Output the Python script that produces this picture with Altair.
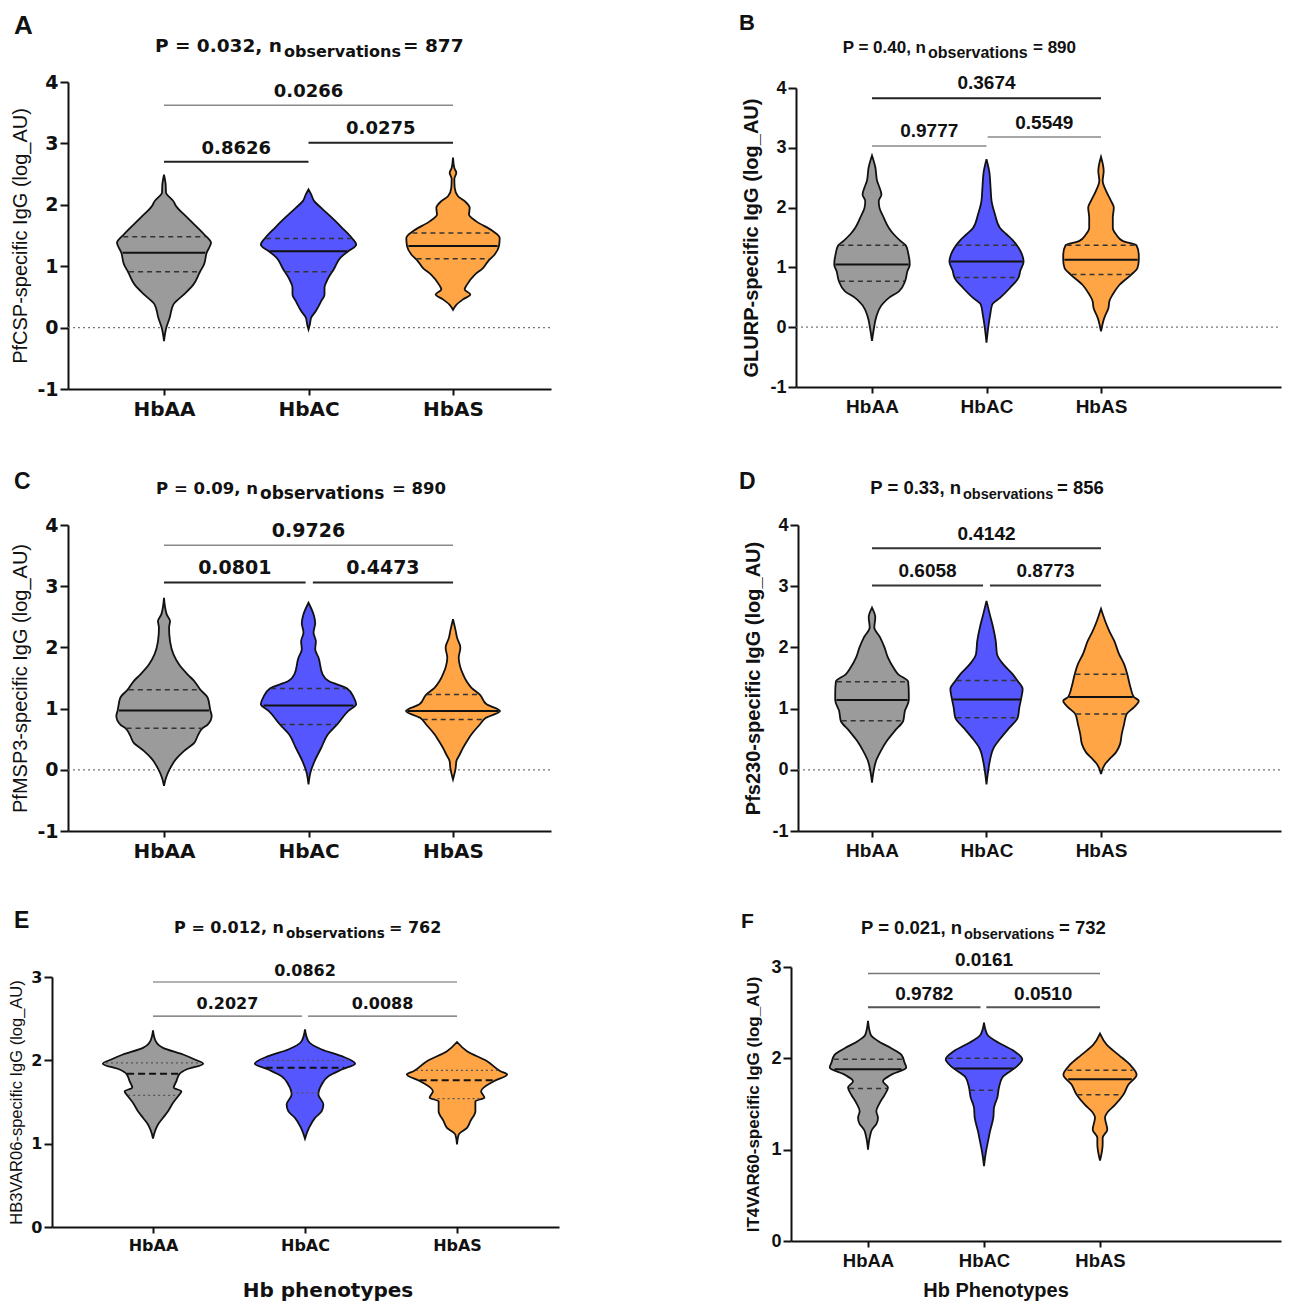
import altair as alt
import numpy as np
import pandas as pd

CATEGORIES = ["HbAA", "HbAC", "HbAS"]
FILLS = ["#9b9b9b", "#5656ff", "#ffa546"]

# ---------------- Panel A : PfCSP ----------------
A_TITLE = ["P = 0.032, n", "observations", "= 877"]
A_YTITLE = "PfCSP-specific IgG (log_AU)"
A_AA_Y = [2.49, 2.33, 2.20, 2.06, 1.99, 1.79, 1.52, 1.38, 1.22, 1.03, 0.91, 0.70, 0.54, 0.375, 0.16, 0.0, -0.22]
A_AA_D = [0, 5, 6, 28, 35, 70, 120, 141, 128, 120, 108, 88, 60, 28, 17, 7, 0]
A_AC_Y = [2.25, 2.17, 2.06, 1.95, 1.79, 1.63, 1.46, 1.35, 1.24, 1.14, 0.97, 0.76, 0.65, 0.54, 0.43, 0.27, 0.16, 0.05, -0.03]
A_AC_D = [0, 8, 17, 38, 70, 100, 130, 143, 118, 96, 78, 55, 48, 48, 38, 22, 8, 4, 0]
A_AS_Y = [2.77, 2.60, 2.52, 2.42, 2.28, 2.14, 2.06, 1.95, 1.84, 1.73, 1.57, 1.46, 1.33, 1.19, 1.08, 0.97, 0.86, 0.70, 0.62, 0.54, 0.46, 0.37, 0.29]
A_AS_D = [0, 4, 10, 4, 5, 15, 35, 50, 48, 70, 120, 140, 138, 125, 105, 90, 65, 42, 35, 52, 30, 10, 0]
A_MEDIAN = [1.22, 1.245, 1.33]
A_Q1 = [0.91, 0.91, 1.12]
A_Q3 = [1.48, 1.45, 1.54]
A_PVALUES = ["0.0266", "0.8626", "0.0275"]

# ---------------- Panel B : GLURP ----------------
B_TITLE = ["P = 0.40, n", "observations", "= 890"]
B_YTITLE = "GLURP-specific IgG (log_AU)"
B_AA_Y = [2.87, 2.67, 2.45, 2.34, 2.22, 2.11, 2.00, 1.83, 1.66, 1.55, 1.44, 1.37, 1.22, 1.05, 0.94, 0.77, 0.60, 0.49, 0.38, 0.16, -0.01, -0.23]
B_AA_D = [0, 10, 15, 22, 28, 20, 22, 35, 50, 65, 85, 100, 108, 112, 105, 98, 80, 50, 30, 12, 6, 0]
B_AC_Y = [2.81, 2.61, 2.34, 2.11, 1.89, 1.66, 1.55, 1.44, 1.33, 1.22, 1.10, 0.94, 0.83, 0.66, 0.49, 0.38, 0.21, -0.01, -0.26]
B_AC_D = [0, 8, 12, 15, 25, 40, 60, 80, 95, 105, 110, 100, 95, 70, 40, 17, 11, 5, 0]
B_AS_Y = [2.85, 2.61, 2.45, 2.28, 2.11, 2.00, 1.83, 1.66, 1.55, 1.44, 1.37, 1.22, 1.13, 0.99, 0.88, 0.71, 0.55, 0.44, 0.32, 0.16, -0.07]
B_AS_D = [0, 8, 5, 15, 30, 38, 35, 35, 45, 65, 105, 112, 112, 108, 90, 55, 35, 25, 22, 10, 0]
B_MEDIAN = [1.05, 1.10, 1.13]
B_Q1 = [0.77, 0.83, 0.88]
B_Q3 = [1.37, 1.37, 1.37]
B_PVALUES = ["0.3674", "0.9777", "0.5549"]

# ---------------- Panel C : PfMSP3 ----------------
C_TITLE = ["P = 0.09, n", "observations", "= 890"]
C_YTITLE = "PfMSP3-specific IgG (log_AU)"
C_AA_Y = [2.81, 2.54, 2.43, 2.32, 2.10, 1.89, 1.72, 1.56, 1.45, 1.31, 1.18, 0.97, 0.88, 0.74, 0.68, 0.55, 0.44, 0.31, 0.17, 0.01, -0.13, -0.26]
C_AA_D = [0, 8, 18, 15, 18, 28, 45, 70, 90, 108, 130, 138, 142, 130, 115, 100, 90, 60, 35, 17, 6, 0]
C_AC_Y = [2.73, 2.54, 2.40, 2.24, 2.10, 1.97, 1.83, 1.56, 1.45, 1.33, 1.18, 1.07, 0.96, 0.74, 0.58, 0.36, 0.14, -0.02, -0.24]
C_AC_D = [0, 15, 20, 15, 22, 20, 30, 42, 60, 115, 135, 142, 118, 85, 58, 38, 18, 7, 0]
C_AS_Y = [2.46, 2.27, 2.16, 2.00, 1.83, 1.67, 1.56, 1.45, 1.34, 1.23, 1.07, 0.96, 0.85, 0.74, 0.58, 0.47, 0.36, 0.25, 0.14, 0.03, -0.16]
C_AS_D = [0, 8, 12, 22, 17, 22, 30, 40, 55, 80, 100, 140, 98, 80, 55, 42, 30, 20, 10, 8, 0]
C_MEDIAN = [0.97, 1.05, 0.96]
C_Q1 = [0.68, 0.74, 0.82]
C_Q3 = [1.31, 1.33, 1.23]
C_PVALUES = ["0.9726", "0.0801", "0.4473"]

# ---------------- Panel D : Pfs230 ----------------
D_TITLE = ["P = 0.33, n", "observations", "= 856"]
D_YTITLE = "Pfs230-specific IgG (log_AU)"
D_AA_Y = [2.65, 2.49, 2.33, 2.16, 2.00, 1.84, 1.67, 1.56, 1.44, 1.24, 1.14, 0.96, 0.80, 0.64, 0.47, 0.31, 0.14, -0.02, -0.21]
D_AA_D = [0, 10, 7, 25, 38, 48, 65, 80, 110, 112, 112, 100, 95, 70, 45, 27, 12, 5, 0]
D_AC_Y = [2.76, 2.54, 2.33, 2.11, 1.89, 1.73, 1.56, 1.45, 1.32, 1.15, 1.02, 0.85, 0.69, 0.53, 0.36, 0.14, -0.02, -0.24]
D_AC_D = [0, 10, 20, 28, 32, 50, 80, 95, 110, 105, 100, 95, 70, 45, 22, 10, 5, 0]
D_AS_Y = [2.63, 2.44, 2.27, 2.11, 1.89, 1.73, 1.56, 1.34, 1.19, 1.13, 1.02, 0.91, 0.74, 0.58, 0.42, 0.28, 0.17, 0.09, -0.07]
D_AS_D = [0, 12, 25, 40, 55, 70, 80, 90, 100, 115, 100, 78, 70, 63, 58, 45, 25, 12, 0]
D_MEDIAN = [1.14, 1.15, 1.19]
D_Q1 = [0.80, 0.85, 0.91]
D_Q3 = [1.44, 1.46, 1.56]
D_PVALUES = ["0.4142", "0.6058", "0.8773"]

# ---------------- Panel E : HB3VAR06 ----------------
E_TITLE = ["P =  0.012, n", "observations", "= 762"]
E_YTITLE = "HB3VAR06-specific IgG (log_AU)"
E_XTITLE = "Hb phenotypes"
E_AA_Y = [2.36, 2.23, 2.15, 2.07, 2.01, 1.96, 1.89, 1.84, 1.75, 1.67, 1.63, 1.57, 1.49, 1.39, 1.31, 1.23, 1.15, 1.06]
E_AA_D = [0, 8, 30, 90, 125, 150, 100, 80, 70, 62, 85, 75, 60, 45, 30, 15, 6, 0]
E_AC_Y = [2.37, 2.23, 2.13, 2.05, 1.96, 1.89, 1.81, 1.71, 1.59, 1.47, 1.39, 1.31, 1.19, 1.06]
E_AC_D = [0, 10, 50, 110, 150, 110, 70, 50, 40, 55, 50, 30, 12, 0]
E_AS_Y = [2.22, 2.11, 1.99, 1.87, 1.83, 1.75, 1.63, 1.55, 1.51, 1.39, 1.27, 1.19, 1.11, 0.99]
E_AS_D = [0, 30, 90, 130, 150, 110, 72, 82, 55, 55, 40, 30, 5, 0]
E_MEDIAN = [1.84, 1.91, 1.76]
E_Q1 = [1.58, 1.61, 1.54]
E_Q3 = [1.97, 2.00, 1.88]
E_PVALUES = ["0.0862", "0.2027", "0.0088"]

# ---------------- Panel F : IT4VAR60 ----------------
F_TITLE = ["P = 0.021, n", "observations", "= 732"]
F_YTITLE = "IT4VAR60-specific IgG (log_AU)"
F_XTITLE = "Hb Phenotypes"
F_AA_Y = [2.41, 2.26, 2.19, 2.11, 2.04, 1.95, 1.90, 1.82, 1.75, 1.68, 1.60, 1.51, 1.42, 1.35, 1.28, 1.22, 1.13, 1.00]
F_AA_D = [0, 8, 30, 70, 100, 110, 115, 70, 45, 60, 50, 35, 25, 30, 25, 12, 5, 0]
F_AC_Y = [2.39, 2.26, 2.19, 2.08, 1.99, 1.90, 1.79, 1.68, 1.57, 1.46, 1.35, 1.20, 1.09, 0.98, 0.82]
F_AC_D = [0, 10, 35, 90, 115, 95, 55, 45, 40, 30, 28, 18, 12, 6, 0]
F_AS_Y = [2.27, 2.15, 2.04, 1.93, 1.82, 1.71, 1.60, 1.49, 1.42, 1.35, 1.22, 1.13, 1.06, 0.88]
F_AS_D = [0, 20, 55, 90, 110, 85, 70, 45, 25, 15, 22, 8, 8, 0]
F_MEDIAN = [1.88, 1.89, 1.77]
F_Q1 = [1.67, 1.65, 1.60]
F_Q3 = [1.99, 2.00, 1.87]
F_PVALUES = ["0.0161", "0.9782", "0.0510"]

DJ = "DejaVu Sans"
LS = "Liberation Sans"
VMAX = 0.33  # widest violin half-width, in category units


def build_panel(c):
    W, H = c["W"], c["H"]
    d0 = 1 + (c["xstart"] - c["c1"]) / c["sp"]
    d1 = 1 + (c["xend"] - c["c1"]) / c["sp"]
    xsc = alt.Scale(domain=[d0, d1], range=[c["xstart"], c["xend"]], nice=False, zero=False)
    ysc = alt.Scale(domain=c["ydom"], range=[H, c["ytop"]], nice=False, zero=False)
    lab = "[" + ",".join("'%s'" % s for s in CATEGORIES) + "][datum.value - 1]"
    xax = alt.Axis(values=[1, 2, 3], labelExpr=lab, title=None, grid=False,
                   domainColor="#111", domainWidth=2, tickColor="#111", tickWidth=2, tickSize=6,
                   labelFont=c["font"], labelFontSize=c["xlab"], labelFontWeight="bold",
                   labelColor="#111", labelPadding=4, labelFlush=False, labelOverlap=False)
    yax = alt.Axis(values=c["yticks"], labelExpr="'' + datum.value", title=c["ytitle"], grid=False,
                   domainColor="#111", domainWidth=2, tickColor="#111", tickWidth=2, tickSize=8,
                   labelFont=c["font"], labelFontSize=c["ylab"], labelFontWeight="bold",
                   labelColor="#111", labelPadding=2, offset=-c["xstart"], labelOverlap=False,
                   titleFont=LS, titleFontSize=c["ytsize"], titleFontWeight=c["ytweight"],
                   titleColor="#111", titlePadding=c["ytpad"])

    def X(f):
        return alt.X(f, scale=xsc, axis=xax, stack=None)

    def Y(f):
        return alt.Y(f, scale=ysc, axis=yax)

    ys, ds = c["ys"], c["ds"]
    dmax = max(max(d) for d in ds)

    def hw_at(i, yv):
        Yv = np.array(ys[i], dtype=float)
        Dv = np.array(ds[i], dtype=float)
        o = np.argsort(Yv)
        return float(np.interp(yv, Yv[o], Dv[o])) / dmax * VMAX * 0.97

    layers = []
    if c["zero"]:
        zdf = pd.DataFrame({"a": [d0], "b": [d1], "y": [0.0]})
        layers.append(alt.Chart(zdf).mark_rule(color="#777", strokeDash=[2, 3], strokeWidth=1.2)
                      .encode(x=X("a:Q"), x2="b:Q", y=Y("y:Q")))
    for i in range(3):
        rows = []
        for yv, dv in zip(ys[i], ds[i]):
            hw = dv / dmax * VMAX
            rows.append(dict(y=yv, lo=i + 1 - hw, hi=i + 1 + hw))
        vdf = pd.DataFrame(rows).sort_values("y").reset_index(drop=True)
        layers.append(
            alt.Chart(vdf).mark_area(orient="horizontal", interpolate="monotone", stroke="#111",
                                     strokeWidth=1.8, fill=FILLS[i], fillOpacity=1)
            .encode(y=Y("y:Q"), x=X("lo:Q"), x2="hi:Q")
        )
    qrows, mrows = [], []
    for i in range(3):
        for q in (c["q1"][i], c["q3"][i]):
            h = hw_at(i, q)
            qrows.append(dict(lo=i + 1 - h, hi=i + 1 + h, y=q))
        m = c["med"][i]
        h = hw_at(i, m)
        mrows.append(dict(lo=i + 1 - h, hi=i + 1 + h, y=m))
    qkw = dict(color=c["qcolor"], strokeWidth=c["qwidth"], strokeDash=c["qdash"])
    layers.append(alt.Chart(pd.DataFrame(qrows)).mark_rule(**qkw)
                  .encode(x=X("lo:Q"), x2="hi:Q", y=Y("y:Q")))
    mkw = dict(color="#111", strokeWidth=2)
    if c["mdash"]:
        mkw["strokeDash"] = c["mdash"]
    layers.append(alt.Chart(pd.DataFrame(mrows)).mark_rule(**mkw)
                  .encode(x=X("lo:Q"), x2="hi:Q", y=Y("y:Q")))

    brows = []
    for (x1, x2, yb, col, sw, ty), pv in zip(c["brackets"], c["pvals"]):
        brows.append(dict(x1=x1, x2=x2, y=yb, col=col, sw=sw, ty=ty, xm=(x1 + x2) / 2, lab=pv))
    bdf = pd.DataFrame(brows)
    layers.append(alt.Chart(bdf).mark_rule()
                  .encode(x=X("x1:Q"), x2="x2:Q", y=Y("y:Q"),
                          color=alt.Color("col:N", scale=None),
                          strokeWidth=alt.StrokeWidth("sw:Q", scale=None)))
    layers.append(alt.Chart(bdf).mark_text(font=c["font"], fontSize=c["bsize"], fontWeight="bold",
                                           baseline="alphabetic", align="center", color="#111")
                  .encode(x=X("xm:Q"), y=Y("ty:Q"), text="lab:N"))

    def ptext(txt, x, y, font, size, align="left"):
        return (alt.Chart(pd.DataFrame({"t": [txt]}))
                .mark_text(font=font, fontSize=size, fontWeight="bold", align=align,
                           baseline="alphabetic", color="#111")
                .encode(x=alt.value(x), y=alt.value(y), text="t:N"))

    t = c["title"]
    layers.append(ptext(t[0], c["tp1"], c["tby"], c["tfont"], c["tmain"], "right"))
    layers.append(ptext(t[1], c["tsubx"], c["tsy"], c["tfont"], c["tsub"]))
    layers.append(ptext(t[2], c["tp3"], c["tby"], c["tfont"], c["tmain"]))
    layers.append(ptext(c["letter"], c["lx"], c["ly"], LS, c["lsize"]))
    if c.get("xtitle"):
        layers.append(ptext(c["xtitle"], c["xtx"], c["xty"], c["font"], c["xtsize"], "center"))
    return alt.layer(*layers).properties(width=W, height=H)


A = dict(W=507, H=307, xstart=16, xend=499, c1=112, sp=144.5, ytop=0, ydom=[-1, 4],
         yticks=[-1, 0, 1, 2, 3, 4], font=DJ, xlab=20, ylab=19, ytsize=20, ytweight="normal", ytpad=6,
         ytitle=A_YTITLE, ys=[A_AA_Y, A_AC_Y, A_AS_Y], ds=[A_AA_D, A_AC_D, A_AS_D],
         med=A_MEDIAN, q1=A_Q1, q3=A_Q3, pvals=A_PVALUES, zero=True,
         qcolor="#333", qwidth=1.5, qdash=[5, 4], mdash=None,
         brackets=[(1, 3, 3.62, "#8a8a8a", 1.5, 3.755), (1, 2, 2.70, "#222", 2, 2.83), (2, 3, 3.01, "#222", 2, 3.16)],
         bsize=18, title=A_TITLE, tfont=DJ, tmain=18.5, tsub=16, tp1=230, tsubx=232, tp3=351, tby=-30, tsy=-25,
         letter="A", lx=-38, ly=-48, lsize=26)
B = dict(W=490, H=305, xstart=5, xend=490, c1=81, sp=114.5, ytop=6, ydom=[-1, 4],
         yticks=[-1, 0, 1, 2, 3, 4], font=LS, xlab=19, ylab=18, ytsize=20, ytweight="bold", ytpad=8,
         ytitle=B_YTITLE, ys=[B_AA_Y, B_AC_Y, B_AS_Y], ds=[B_AA_D, B_AC_D, B_AS_D],
         med=B_MEDIAN, q1=B_Q1, q3=B_Q3, pvals=B_PVALUES, zero=True,
         qcolor="#333", qwidth=1.5, qdash=[5, 4], mdash=None,
         brackets=[(1, 3, 3.83, "#222", 2, 3.98), (1, 2, 3.03, "#8a8a8a", 1.5, 3.18), (2.01, 3, 3.18, "#8a8a8a", 1.5, 3.32)],
         bsize=19, title=B_TITLE, tfont=LS, tmain=17, tsub=16, tp1=135, tsubx=137, tp3=242, tby=-29, tsy=-24,
         letter="B", lx=-52, ly=-52, lsize=22)
C = dict(W=507, H=306, xstart=16, xend=499, c1=112, sp=144.5, ytop=0, ydom=[-1, 4],
         yticks=[-1, 0, 1, 2, 3, 4], font=DJ, xlab=20, ylab=19, ytsize=20, ytweight="normal", ytpad=6,
         ytitle=C_YTITLE, ys=[C_AA_Y, C_AC_Y, C_AS_Y], ds=[C_AA_D, C_AC_D, C_AS_D],
         med=C_MEDIAN, q1=C_Q1, q3=C_Q3, pvals=C_PVALUES, zero=True,
         qcolor="#333", qwidth=1.5, qdash=[5, 4], mdash=None,
         brackets=[(1, 3, 3.67, "#8a8a8a", 1.5, 3.80), (1, 1.98, 3.06, "#222", 2, 3.20), (2.03, 3, 3.06, "#222", 2, 3.20)],
         bsize=19, title=C_TITLE, tfont=DJ, tmain=16.5, tsub=17, tp1=206, tsubx=208, tp3=340, tby=-31, tsy=-26,
         letter="C", lx=-38, ly=-36, lsize=23)
D = dict(W=490, H=306, xstart=7, xend=490, c1=81, sp=114.5, ytop=0, ydom=[-1, 4],
         yticks=[-1, 0, 1, 2, 3, 4], font=LS, xlab=19, ylab=18, ytsize=20, ytweight="bold", ytpad=8,
         ytitle=D_YTITLE, ys=[D_AA_Y, D_AC_Y, D_AS_Y], ds=[D_AA_D, D_AC_D, D_AS_D],
         med=D_MEDIAN, q1=D_Q1, q3=D_Q3, pvals=D_PVALUES, zero=True,
         qcolor="#333", qwidth=1.5, qdash=[5, 4], mdash=None,
         brackets=[(1, 3, 3.62, "#333", 2, 3.76), (1, 1.97, 3.01, "#333", 2, 3.155), (2.03, 3, 3.01, "#333", 2, 3.155)],
         bsize=19, title=D_TITLE, tfont=LS, tmain=18.5, tsub=14.5, tp1=170, tsubx=172, tp3=266, tby=-31, tsy=-26,
         letter="D", lx=-52, ly=-36, lsize=23)
E = dict(W=507, H=260, xstart=0, xend=507, c1=101, sp=152, ytop=10, ydom=[0, 3],
         yticks=[0, 1, 2, 3], font=DJ, xlab=16, ylab=16, ytsize=16.5, ytweight="normal", ytpad=6,
         ytitle=E_YTITLE, ys=[E_AA_Y, E_AC_Y, E_AS_Y], ds=[E_AA_D, E_AC_D, E_AS_D],
         med=E_MEDIAN, q1=E_Q1, q3=E_Q3, pvals=E_PVALUES, zero=False,
         qcolor="#555", qwidth=1.3, qdash=[2, 3], mdash=[7, 4],
         brackets=[(1, 3, 2.94, "#666", 1.2, 3.01), (1, 1.98, 2.53, "#666", 1.2, 2.62), (2.02, 3, 2.53, "#666", 1.2, 2.62)],
         bsize=16, title=E_TITLE, tfont=DJ, tmain=16, tsub=13.5, tp1=232, tsubx=234, tp3=337, tby=-34, tsy=-29,
         letter="E", lx=-38, ly=-39, lsize=23, xtitle=E_XTITLE, xtx=276, xty=330, xtsize=20)
F = dict(W=490, H=274, xstart=0, xend=490, c1=77, sp=116, ytop=0, ydom=[0, 3],
         yticks=[0, 1, 2, 3], font=LS, xlab=18.5, ylab=18, ytsize=17, ytweight="bold", ytpad=8,
         ytitle=F_YTITLE, ys=[F_AA_Y, F_AC_Y, F_AS_Y], ds=[F_AA_D, F_AC_D, F_AS_D],
         med=F_MEDIAN, q1=F_Q1, q3=F_Q3, pvals=F_PVALUES, zero=False,
         qcolor="#333", qwidth=1.5, qdash=[5, 4], mdash=None,
         brackets=[(1, 3, 2.93, "#777", 1.5, 3.007), (1, 1.97, 2.56, "#555", 2, 2.64), (2.02, 3, 2.56, "#555", 2, 2.64)],
         bsize=19, title=F_TITLE, tfont=LS, tmain=18.5, tsub=14.5, tp1=171, tsubx=173, tp3=268, tby=-33, tsy=-28,
         letter="F", lx=-50, ly=-39, lsize=21, xtitle=F_XTITLE, xtx=205, xty=330, xtsize=20)

panels = [build_panel(p) for p in (A, B, C, D, E, F)]

chart = (
    alt.concat(*panels, columns=2, spacing={"row": 136, "column": 232}, bounds="flush")
    .configure_view(stroke=None)
    .properties(padding={"left": 0, "top": 4, "right": 0, "bottom": 0}, background="white")
)

chart.save("out.html", embed_options={"renderer": "svg", "actions": False})
